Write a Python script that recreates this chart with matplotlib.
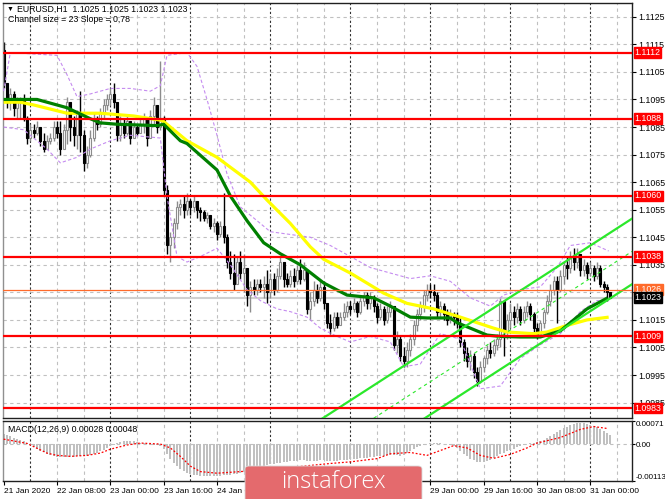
import matplotlib
matplotlib.use('Agg')
import matplotlib.pyplot as plt
import matplotlib.transforms as mtransforms
from matplotlib.patches import FancyBboxPatch
import numpy as np

plt.rcParams['font.family'] = ['Liberation Sans', 'DejaVu Sans']

# ---- EURUSD H1 candles, 21 Jan 16:00 .. 31 Jan 06:00 ----
first_open = 1.1113
closes = [
    1.1101, 1.1094, 1.1097, 1.1092, 1.1094, 1.1095, 1.1088, 1.1081, 1.1084, 1.1083,
    1.1085, 1.1080, 1.1077, 1.1080, 1.1081, 1.1085, 1.1083, 1.1077, 1.1084, 1.1094,
    1.1085, 1.1082, 1.1090, 1.1082, 1.1072, 1.1075, 1.1081, 1.1088, 1.1086, 1.1090,
    1.1093, 1.1095, 1.1097, 1.1094, 1.1082, 1.1086, 1.1083, 1.1087, 1.1081, 1.1085,
    1.1083, 1.1086, 1.1088, 1.1081, 1.1089, 1.1093, 1.1085, 1.1088, 1.1062, 1.1042,
    1.1045, 1.1050, 1.1056, 1.1057, 1.1055, 1.1058, 1.1056, 1.1058, 1.1055, 1.1054,
    1.1052, 1.1053, 1.1049, 1.1050, 1.1046, 1.1049, 1.1045, 1.1036, 1.1032, 1.1028,
    1.1036, 1.1032, 1.1034, 1.1024, 1.1027, 1.1026, 1.1028, 1.1027, 1.1028, 1.1025,
    1.1030, 1.1026, 1.1031, 1.1036, 1.1030, 1.1028, 1.1031, 1.1029, 1.1033, 1.1030,
    1.1033, 1.1019, 1.1022, 1.1026, 1.1023, 1.1027, 1.1021, 1.1014, 1.1012, 1.1016,
    1.1013, 1.1016, 1.1018, 1.1020, 1.1019, 1.1021, 1.1018, 1.1022, 1.1024, 1.1021,
    1.1023, 1.1020, 1.1016, 1.1019, 1.1015, 1.1018, 1.1020, 1.1006, 1.1008, 1.1002,
    1.1000, 1.1004, 1.1008, 1.1013, 1.1017, 1.1020, 1.1024, 1.1026, 1.1025, 1.1024,
    1.1018, 1.1020, 1.1017, 1.1015, 1.1017, 1.1016, 1.1014, 1.1007, 1.1003, 1.1000,
    1.1002, 1.0996, 1.0993, 1.0998, 1.1001, 1.1004, 1.1003, 1.1006, 1.1008, 1.1022,
    1.1011, 1.1015, 1.1018, 1.1016, 1.1019, 1.1015, 1.1018, 1.1020, 1.1017, 1.1012,
    1.1010, 1.1014, 1.1018, 1.1022, 1.1026, 1.1029, 1.1026, 1.1031, 1.1035, 1.1034,
    1.1038, 1.1036, 1.1039, 1.1033, 1.1035, 1.1032, 1.1034, 1.1031, 1.1034, 1.1028,
    1.1027, 1.1025, 1.1023,
]
highs = [
    1.1116, 1.1101, 1.1099, 1.1098, 1.1096, 1.1096, 1.1097, 1.1089, 1.1086, 1.1086,
    1.1087, 1.1085, 1.1083, 1.1082, 1.1083, 1.1087, 1.1087, 1.1087, 1.1086, 1.1096,
    1.1092, 1.1089, 1.1091, 1.1098, 1.1084, 1.1078, 1.1084, 1.1090, 1.1089, 1.1092,
    1.1095, 1.1097, 1.1099, 1.1101, 1.1093, 1.1089, 1.1088, 1.1089, 1.1087, 1.1087,
    1.1086, 1.1088, 1.1090, 1.1088, 1.1091, 1.1096, 1.1093, 1.1109, 1.1089, 1.1064,
    1.1047, 1.1052, 1.1058, 1.1059, 1.1060, 1.1061, 1.1059, 1.1060, 1.1058, 1.1056,
    1.1055, 1.1054, 1.1052, 1.1052, 1.1051, 1.1051, 1.1061, 1.1046, 1.1040, 1.1039,
    1.1038, 1.1040, 1.1039, 1.1033, 1.1029, 1.1030, 1.1030, 1.1030, 1.1031, 1.1033,
    1.1032, 1.1032, 1.1034, 1.1038, 1.1036, 1.1032, 1.1033, 1.1034, 1.1035, 1.1037,
    1.1036, 1.1031, 1.1025, 1.1029, 1.1028, 1.1029, 1.1029, 1.1021, 1.1017, 1.1018,
    1.1018, 1.1018, 1.1021, 1.1022, 1.1022, 1.1023, 1.1022, 1.1024, 1.1025, 1.1025,
    1.1025, 1.1024, 1.1021, 1.1021, 1.1020, 1.1020, 1.1022, 1.1020, 1.1011, 1.1009,
    1.1005, 1.1007, 1.1010, 1.1015, 1.1019, 1.1022, 1.1026, 1.1028, 1.1028, 1.1028,
    1.1025, 1.1022, 1.1021, 1.1019, 1.1019, 1.1018, 1.1018, 1.1016, 1.1008, 1.1005,
    1.1004, 1.1003, 1.0998, 1.1000, 1.1002, 1.1006, 1.1007, 1.1008, 1.1010, 1.1023,
    1.1020, 1.1017, 1.1021, 1.1020, 1.1021, 1.1020, 1.1020, 1.1022, 1.1021, 1.1018,
    1.1014, 1.1015, 1.1019, 1.1024, 1.1028, 1.1031, 1.1031, 1.1033, 1.1036, 1.1038,
    1.1040, 1.1041, 1.1041, 1.1039, 1.1037, 1.1036, 1.1036, 1.1035, 1.1036, 1.1035,
    1.1029, 1.1028, 1.1025,
]
lows = [
    1.1099, 1.1092, 1.1091, 1.1089, 1.1088, 1.1088, 1.1087, 1.1079, 1.1080, 1.1081,
    1.1082, 1.1078, 1.1076, 1.1078, 1.1079, 1.1080, 1.1081, 1.1075, 1.1080, 1.1079,
    1.1080, 1.1078, 1.1077, 1.1076, 1.1069, 1.1070, 1.1074, 1.1080, 1.1084, 1.1085,
    1.1088, 1.1091, 1.1093, 1.1092, 1.1080, 1.1080, 1.1081, 1.1082, 1.1079, 1.1081,
    1.1082, 1.1083, 1.1083, 1.1078, 1.1081, 1.1086, 1.1083, 1.1084, 1.1060, 1.1039,
    1.1036, 1.1041, 1.1048, 1.1053, 1.1052, 1.1053, 1.1053, 1.1054, 1.1052, 1.1051,
    1.1051, 1.1050, 1.1048, 1.1047, 1.1044, 1.1045, 1.1043, 1.1034, 1.1030, 1.1026,
    1.1030, 1.1030, 1.1025, 1.1020, 1.1018, 1.1024, 1.1024, 1.1025, 1.1023, 1.1021,
    1.1023, 1.1024, 1.1025, 1.1030, 1.1027, 1.1027, 1.1027, 1.1027, 1.1028, 1.1028,
    1.1029, 1.1017, 1.1015, 1.1020, 1.1021, 1.1022, 1.1019, 1.1012, 1.1010, 1.1011,
    1.1012, 1.1013, 1.1015, 1.1016, 1.1017, 1.1018, 1.1016, 1.1017, 1.1020, 1.1019,
    1.1019, 1.1018, 1.1014, 1.1015, 1.1013, 1.1014, 1.1016, 1.1004, 1.1003, 1.1000,
    1.0998, 1.0998, 1.1002, 1.1006, 1.1011, 1.1015, 1.1018, 1.1022, 1.1023, 1.1022,
    1.1016, 1.1016, 1.1015, 1.1013, 1.1014, 1.1013, 1.1012, 1.1005, 1.1000, 1.0998,
    1.0997, 1.0994, 1.0991, 1.0992, 1.0996, 1.0999, 1.1001, 1.1002, 1.1004, 1.1005,
    1.1002, 1.1008, 1.1012, 1.1013, 1.1014, 1.1013, 1.1014, 1.1016, 1.1015, 1.1010,
    1.1008, 1.1009, 1.1012, 1.1017, 1.1020, 1.1024, 1.1014, 1.1025, 1.1028, 1.1030,
    1.1032, 1.1033, 1.1034, 1.1031, 1.1031, 1.1030, 1.1031, 1.1029, 1.1030, 1.1027,
    1.1025, 1.1022, 1.1023,
]

# moving averages / envelopes sampled along the chart (bar index, price)
yellow_bars = [0, 5, 9, 19, 29, 39, 47, 48, 55, 64, 74, 79, 86, 92, 96, 104, 114, 121, 129, 137, 147, 151, 159, 163, 169, 175, 181.5]
yellow_vals = [1.1094, 1.1094, 1.1093, 1.1090, 1.1090, 1.1089, 1.10875, 1.1087, 1.1080, 1.1074, 1.1065, 1.10585, 1.1050, 1.10415, 1.1037, 1.1032, 1.10247, 1.1021, 1.1019, 1.1016, 1.1012, 1.10106, 1.1010, 1.10106, 1.1013, 1.1015, 1.1016]
green_bars = [0, 8, 10, 19, 26, 29, 34, 46, 48, 53, 55, 64, 68, 73, 78, 83, 89, 96, 103, 111, 116, 122, 127, 134, 136, 145, 149, 155, 161, 167, 175, 181.2]
green_vals = [1.1095, 1.1095, 1.1095, 1.1092, 1.1088, 1.10865, 1.1086, 1.10855, 1.1086, 1.1080, 1.1079, 1.10694, 1.1060, 1.1051, 1.1043, 1.1039, 1.1035, 1.10284, 1.1024, 1.1023, 1.1020, 1.1016, 1.10157, 1.10157, 1.1014, 1.10095, 1.1009, 1.10088, 1.10088, 1.1011, 1.1019, 1.1023]
bb_up_bars = [0, 2, 16, 19, 22, 26, 32, 38, 44, 47, 49, 55, 58, 61, 64, 67, 71, 76, 80, 86, 92, 98, 104, 110, 116, 122, 128, 134, 140, 146, 150, 155, 161, 166, 170, 176, 181.5]
bb_up_vals = [1.1098, 1.1112, 1.1111, 1.1104, 1.1096, 1.1097, 1.1099, 1.1099, 1.1098, 1.1100, 1.1111, 1.1112, 1.1107, 1.1095, 1.1082, 1.1068, 1.1056, 1.1051, 1.1047, 1.1046, 1.1045, 1.1042, 1.1038, 1.1034, 1.1032, 1.1030, 1.1031, 1.1029, 1.1023, 1.1020, 1.1024, 1.1026, 1.1027, 1.1034, 1.1042, 1.1043, 1.1040]
bb_lo_bars = [0, 6, 13, 17, 22, 26, 32, 38, 47, 49, 52, 55, 59, 64, 68, 73, 77, 82, 86, 91, 95, 100, 104, 110, 116, 120, 125, 131, 137, 143, 149, 155, 161, 167, 173, 178, 181.5]
bb_lo_vals = [1.1085, 1.1084, 1.1077, 1.1072, 1.1074, 1.1077, 1.1080, 1.1082, 1.1081, 1.1060, 1.1038, 1.1036, 1.1038, 1.1041, 1.1035, 1.1026, 1.1022, 1.1019, 1.1018, 1.1016, 1.1012, 1.1009, 1.1007, 1.1009, 1.1007, 1.0998, 1.0999, 1.1010, 1.1008, 1.0990, 1.0991, 1.1001, 1.1006, 1.1010, 1.1018, 1.1022, 1.1022]

# linear regression channel: (bar, price) end points of each line
chan_upper = [(95.7, 1.09793), (188.7, 1.10519)]
chan_mid = [(111.0, 1.09793), (188.7, 1.10400)]
chan_lower = [(126.3, 1.09793), (188.7, 1.10281)]

levels = [1.1112, 1.1088, 1.1060, 1.1038, 1.1009, 1.0983]
orange_level = 1.1026
bid_level = 1.1023

# MACD(12,26,9): main as histogram (x1e-5 per bar), signal sampled
macd_hist_e5 = [
    30, 27, 24, 20, 16, 12, 8, 3, -3, -9,
    -15, -21, -26, -30, -34, -37, -39, -40, -41, -41,
    -40, -39, -38, -37, -37, -36, -34, -31, -27, -22,
    -17, -12, -7, -2, 3, 6, 8, 9, 9, 8,
    6, 4, 2, 0, -2, -3, -4, -5, -15, -30,
    -45, -58, -68, -76, -83, -88, -92, -95, -97, -98,
    -99, -100, -100, -100, -99, -98, -97, -96, -95, -93,
    -91, -89, -87, -84, -81, -78, -75, -72, -69, -66,
    -63, -61, -59, -57, -55, -54, -53, -52, -51, -50,
    -50, -51, -52, -52, -51, -50, -50, -51, -52, -52,
    -51, -50, -49, -48, -47, -46, -45, -44, -43, -42,
    -41, -40, -38, -37, -36, -35, -34, -34, -35, -36,
    -33, -28, -22, -15, -9, -5, -2, 0, 2, 3,
    3, 2, 1, 0, -2, -6, -12, -20, -30, -38,
    -45, -50, -54, -56, -55, -52, -48, -44, -38, -32,
    -27, -22, -18, -14, -10, -6, -3, 0, 2, 4,
    6, 9, 13, 18, 24, 30, 36, 42, 48, 54,
    58, 62, 64, 65, 64, 62, 60, 56, 52, 47,
    40, 34, 28,
]
signal_bars = [0, 7, 13, 16, 20, 25, 29, 32, 37, 41, 47, 50, 53, 56, 59, 64, 71, 80, 88, 98, 104, 112, 116, 122, 127, 131, 135, 139, 143, 147, 152, 157, 160, 167, 173, 177, 181]
signal_e5 = [15, 2, -28, -35, -38, -35, -28, -16, -3, 3, 0, -12, -38, -68, -85, -90, -85, -78, -70, -60, -55, -45, -30, -26, -35, -20, -5, -12, -35, -44, -32, -12, 3, 20, 45, 54, 48]

# time axis: a tick every 16 bars; the labels under the instaforex badge are not visible
date_bars = [0, 16, 32, 48, 64, 80, 96, 112, 128, 144, 160, 176]
date_labels = ['21 Jan 2020', '22 Jan 08:00', '23 Jan 00:00', '23 Jan 16:00', '24 Jan 08:00',
               '', '', '', '29 Jan 00:00', '29 Jan 16:00',
               '30 Jan 08:00', '31 Jan 00:00']
midnight_bars = [8, 32, 56, 80, 104, 128, 152, 176]
price_ticks = [1.0985, 1.0995, 1.1005, 1.1015, 1.1025, 1.1035, 1.1045, 1.1055,
               1.1065, 1.1075, 1.1085, 1.1095, 1.1105, 1.1115, 1.1125]
# 1.1025 sits completely behind the 1.1026 / 1.1023 price boxes
hidden_ticks = [1.1025]

W, H = 665, 499
fig = plt.figure(figsize=(W / 100, H / 100), dpi=100)
fig.patch.set_facecolor('white')
ax = fig.add_axes([3 / W, (H - 418) / H, 629 / W, 415 / H])
axm = fig.add_axes([3 / W, (H - 481) / H, 629 / W, 60 / H])

XL = (-0.2, 188.5)
GRID = '#c0c0c0'
FS = 6.3

for a in (ax, axm):
    a.set_xlim(*XL)
    for s in a.spines.values():
        s.set_color('#202020')
        s.set_linewidth(1.0)
    a.spines['left'].set_color('#909090')
    a.yaxis.tick_right()
    a.tick_params(axis='y', direction='out', length=3, width=0.8, labelsize=FS, pad=1.5, colors='black')
    for b in range(8, 189, 8):
        if b in midnight_bars:
            a.axvline(b, color='#303030', lw=0.8, ls=(0, (2, 2)), zorder=0.5)
        else:
            a.axvline(b, color=GRID, lw=0.8, ls=(0, (3, 3)), zorder=0.5)

# ---- main price panel ----
ax.set_ylim(1.09794, 1.11300)
ax.set_yticks(price_ticks)
ax.set_yticklabels(['' if p in hidden_ticks else '%.4f' % p for p in price_ticks])
ax.set_xticks([])
for p in price_ticks:
    ax.axhline(p, color=GRID, lw=0.8, ls=(0, (3, 3)), zorder=0.5)

c = np.array(closes)
o = np.r_[first_open, c[:-1]]
hi = np.maximum(np.array(highs), np.maximum(o, c))
lo = np.minimum(np.array(lows), np.minimum(o, c))
xb = np.arange(len(c))
up = c >= o
body_lo = np.minimum(o, c)
body_h = np.maximum(np.abs(c - o), 0.00002)

ax.vlines(xb[up], lo[up], hi[up], color='#8c8c8c', lw=1.0, zorder=2)
ax.vlines(xb[~up], lo[~up], hi[~up], color='black', lw=1.0, zorder=2)
ax.bar(xb[up], body_h[up], bottom=body_lo[up], width=0.62, color='white', edgecolor='#8c8c8c', lw=0.8, zorder=2.1)
ax.bar(xb[~up], body_h[~up], bottom=body_lo[~up], width=0.62, color='black', edgecolor='black', lw=0.8, zorder=2.1)

# indicators
ax.plot(bb_up_bars, bb_up_vals, color='#c58cf0', lw=0.8, ls=(0, (3, 2)), zorder=3)
ax.plot(bb_lo_bars, bb_lo_vals, color='#c58cf0', lw=0.8, ls=(0, (3, 2)), zorder=3)
ax.plot(yellow_bars, yellow_vals, color='#ffff00', lw=2.3, zorder=3.2, solid_capstyle='butt')
ax.plot(green_bars, green_vals, color='#008000', lw=2.3, zorder=3.3, solid_capstyle='butt')

for line, ls, lw in ((chan_upper, '-', 1.6), (chan_lower, '-', 1.6), (chan_mid, (0, (3, 3)), 0.8)):
    (x0, y0), (x1, y1) = line
    ax.plot([x0, x1], [y0, y1], color='#2be82b', lw=lw, ls=ls, zorder=3.5)

for lv in levels:
    ax.axhline(lv, color='#ff0000', lw=1.6, zorder=3.6)
ax.axhline(orange_level, color='#ff6a2a', lw=0.9, zorder=3.6)
ax.axhline(bid_level, color='#d0d0d0', lw=1.5, zorder=1.5)

tr = mtransforms.blended_transform_factory(ax.transAxes, ax.transData)


def price_box(val, fc, tc='white'):
    ax.text(1.004, val, '%.4f' % val, transform=tr, fontsize=FS, color=tc, va='center', ha='left',
            clip_on=False, zorder=10,
            bbox=dict(boxstyle='square,pad=0.1', fc=fc, ec=fc))


for lv in levels:
    price_box(lv, '#ff0000')
price_box(orange_level, '#ff6a2a')
price_box(bid_level, '#000000')

ax.text(4 / 629, 1 - 6 / 415, u'\u25bc', transform=ax.transAxes, fontsize=5, va='center', ha='left', color='black')
ax.text(14 / 629, 1 - 6 / 415, 'EURUSD,H1  1.1025 1.1025 1.1023 1.1023', transform=ax.transAxes,
        fontsize=FS, va='center', ha='left', color='black')
ax.text(5 / 629, 1 - 17 / 415, 'Channel size = 23 Slope = 0,78', transform=ax.transAxes,
        fontsize=FS, va='center', ha='left', color='black')

# ---- MACD panel ----
hist = np.array(macd_hist_e5) * 1e-5
axm.set_ylim(-0.00114, 0.00071)
axm.bar(xb, hist, width=0.55, color='#c0c0c0', edgecolor='none', zorder=2)
axm.plot(signal_bars, np.array(signal_e5) * 1e-5, color='#ff0000', lw=0.9, ls=(0, (1.5, 1.5)), zorder=3)
axm.axhline(0, color=GRID, lw=0.8, ls=(0, (3, 3)), zorder=0.5)
axm.set_yticks([0.00071, 0.0, -0.00113])
labs = axm.set_yticklabels(['0.00071', '0.00', '-0.00113'])
axm.tick_params(axis='y', length=2, pad=0.5, labelsize=5.8)
labs[0].set_va('top')
labs[2].set_va('bottom')
axm.set_xticks(date_bars)
axm.set_xticklabels(date_labels)
axm.tick_params(axis='x', direction='out', length=3, width=0.8, labelsize=6, pad=2)
for t in axm.get_xticklabels():
    t.set_ha('left')
axm.text(5 / 629, 1 - 8 / 60, 'MACD(12,26,9) 0.00028 0.00048', transform=axm.transAxes,
         fontsize=FS, va='center', ha='left', color='black')

# ---- instaforex badge ----
badge = FancyBboxPatch((245 / W, -0.02), 177 / W, (499 - 466) / H + 0.02,
                       boxstyle='round,pad=0,rounding_size=0.006', transform=fig.transFigure,
                       fc='#e46a6d', ec='#d9d9d9', lw=0.6, zorder=20)
fig.patches.append(badge)
fig.text(333 / W, 1 - 482 / H, 'instaforex', fontsize=17, color='white', ha='center', va='center',
         family=['Open Sans', 'DejaVu Sans'], fontweight='light', zorder=21)

fig.savefig('out.png', dpi=100)
